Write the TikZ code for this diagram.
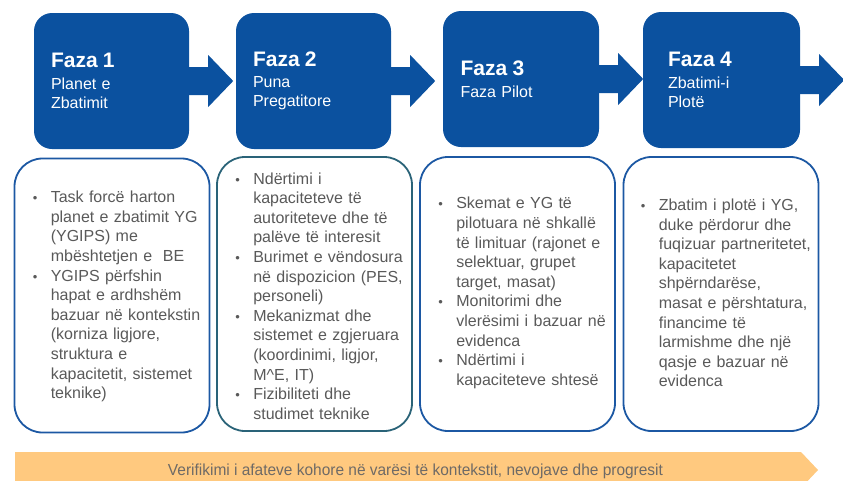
\documentclass[tikz,border=0pt]{standalone}
\usepackage{fontspec}
\setmainfont{Liberation Sans}
\usepackage{graphicx}
\definecolor{phaseblue}{HTML}{0B519F}
\definecolor{boxblue}{HTML}{1C58A3}
\definecolor{boxteal}{HTML}{2A6378}
\definecolor{txtgray}{HTML}{595959}
\definecolor{bargray}{HTML}{6E6A66}
\definecolor{barorange}{HTML}{FFC97F}
% bullet line, text kept at the indent by \leftskip
\newcommand{\itm}{\par\noindent\llap{\makebox[18pt][l]{\fontsize{13}{13}\selectfont\textbullet}}}
\newcommand{\bulletlist}{\raggedright\leftskip=18pt\parindent=0pt}

\begin{document}
\begin{tikzpicture}[x=1pt,y=-1pt,
  phase/.style={fill=phaseblue,rounded corners=18pt,minimum width=155pt,minimum height=136pt,
    text=white,align=left,inner xsep=17pt,text width=121pt,font=\fontsize{16}{19}\selectfont},
  stage/.style={draw=boxblue,line width=1.8pt,rounded corners=28pt,minimum width=195pt,minimum height=274pt,inner sep=0pt},
  stagetext/.style={anchor=west,xshift=19pt,text=txtgray,text width=180pt,inner sep=0pt,
    font=\fontsize{16}{19.6}\selectfont}]
\useasboundingbox (0,0) rectangle (843,480);

% Phases
\node[phase] (f1) at (111.5,81) {{\fontsize{21}{21}\selectfont\bfseries Faza 1}\\[2.5pt]Planet e\\Zbatimit};
\node[phase] (f2) at (313.5,81) {{\fontsize{21}{21}\selectfont\bfseries Faza 2}\\[2.5pt]Puna\\Pregatitore};
\node[phase,minimum width=156pt] (f3) at (521,79) {{\fontsize{21}{21}\selectfont\bfseries Faza 3}\\[2.5pt]Faza Pilot};
\node[phase,inner xsep=25pt,text width=107pt] (f4) at (721.5,80) {{\fontsize{21}{21}\selectfont\bfseries Faza 4}\\[2.5pt]Zbatimi-i\\Plotë};

% Arrows between phases
\foreach \i in {1,2,3,4} {
    \fill[phaseblue] (f\i.east) ++(-2,-14) -- ++(21,0) -- ++(0,-12) -- ++(25,26)
        -- ++(-25,26) -- ++(0,-12) -- ++(-21,0) -- cycle;
}

% Activities
\node[stage] (b1) at (112,295.5) {};
\node[stage,draw=boxteal] (b2) at (314.5,294) {};
\node[stage] (b3) at (517.5,294) {};
\node[stage] (b4) at (721,294) {};

\node[stagetext,yshift=3pt] (t1) at (b1.west) {\bulletlist
\itm Task forcë harton\newline planet e zbatimit YG\newline (YGIPS) me\newline mbështetjen e\ \ BE
\itm YGIPS përfshin\newline hapat e ardhshëm\newline bazuar në kontekstin\newline (korniza ligjore,\newline struktura e\newline kapacitetit, sistemet\newline teknike)\par};
\node[stagetext,yshift=2pt] (t2) at (b2.west) {\bulletlist
\itm Ndërtimi i\newline kapaciteteve të\newline autoriteteve dhe të\newline palëve të interesit
\itm Burimet e vëndosura\newline në dispozicion (PES,\newline personeli)
\itm Mekanizmat dhe\newline sistemet e zgjeruara\newline (koordinimi, ligjor,\newline M\textasciicircum E, IT)
\itm Fizibiliteti dhe\newline studimet teknike\par};
\node[stagetext,yshift=5pt] (t3) at (b3.west) {\bulletlist
\itm Skemat e YG të\newline pilotuara në shkallë\newline të limituar (rajonet e\newline selektuar, grupet\newline target, masat)
\itm Monitorimi dhe\newline vlerësimi i bazuar në\newline evidenca
\itm Ndërtimi i\newline kapaciteteve shtesë\par};
\node[stagetext,xshift=-1pt,yshift=5pt] (t4) at (b4.west) {\bulletlist
\itm Zbatim i plotë i YG,\newline duke përdorur dhe\newline fuqizuar partneritetet,\newline kapacitetet\newline shpërndarëse,\newline masat e përshtatura,\newline financime të\newline larmishme dhe një\newline qasje e bazuar në\newline evidenca\par};

% Review bar
\fill[barorange] (15,452) -- (801,452) -- (818,470) -- (801,488) -- (15,488) -- cycle;
\node[anchor=base,text=bargray,inner sep=0pt] (verif) at (415.5,475)
    {\resizebox{495pt}{\height}{\fontsize{16}{16}\selectfont Verifikimi i afateve kohore në varësi të kontekstit, nevojave dhe progresit}};
\end{tikzpicture}
\end{document}
